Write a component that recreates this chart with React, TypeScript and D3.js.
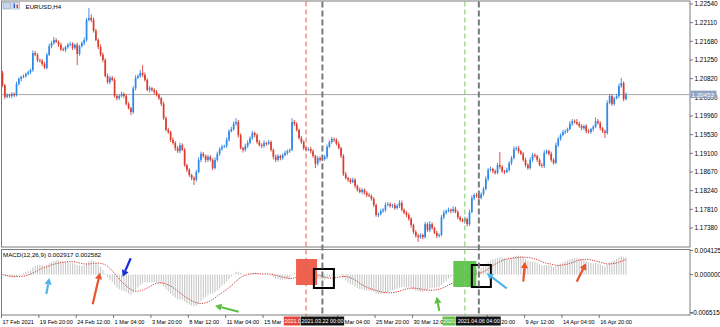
import React from "react";
import * as d3 from "d3";

// ---------- DATA (EURUSD H4) ----------
const firstOpen = 1.2095;
const closes = [
  1.2067, 1.2040, 1.2044, 1.2042, 1.2047, 1.2044, 1.2070, 1.2081, 1.2086, 1.2088,
  1.2093, 1.2097, 1.2102, 1.2141, 1.2137, 1.2125, 1.2123, 1.2116, 1.2107, 1.2137,
  1.2157, 1.2164, 1.2171, 1.2167, 1.2160, 1.2150, 1.2148, 1.2155, 1.2160, 1.2162,
  1.2153, 1.2160, 1.2139, 1.2157, 1.2164, 1.2171, 1.2217, 1.2222, 1.2217, 1.2192,
  1.2171, 1.2155, 1.2137, 1.2125, 1.2088, 1.2074, 1.2084, 1.2079, 1.2042, 1.2037,
  1.2042, 1.2047, 1.2042, 1.2024, 1.2014, 1.2005, 1.2060, 1.2084, 1.2088, 1.2095,
  1.2091, 1.2079, 1.2056, 1.2060, 1.2056, 1.2051, 1.2044, 1.2037, 1.2024, 1.1991,
  1.1964, 1.1959, 1.1941, 1.1934, 1.1922, 1.1915, 1.1929, 1.1918, 1.1883, 1.1872,
  1.1860, 1.1853, 1.1849, 1.1867, 1.1895, 1.1909, 1.1904, 1.1895, 1.1902, 1.1895,
  1.1876, 1.1895, 1.1909, 1.1920, 1.1925, 1.1927, 1.1941, 1.1961, 1.1966, 1.1978,
  1.1982, 1.1952, 1.1922, 1.1918, 1.1927, 1.1934, 1.1945, 1.1957, 1.1952, 1.1936,
  1.1929, 1.1927, 1.1934, 1.1932, 1.1936, 1.1918, 1.1902, 1.1895, 1.1904, 1.1899,
  1.1906, 1.1911, 1.1915, 1.1918, 1.1982, 1.1978, 1.1964, 1.1945, 1.1936, 1.1922,
  1.1918, 1.1920, 1.1915, 1.1904, 1.1886, 1.1899, 1.1895, 1.1897, 1.1902, 1.1925,
  1.1936, 1.1943, 1.1941, 1.1932, 1.1922, 1.1904, 1.1862, 1.1853, 1.1849, 1.1844,
  1.1849, 1.1835, 1.1826, 1.1821, 1.1826, 1.1819, 1.1814, 1.1812, 1.1805, 1.1791,
  1.1768, 1.1770, 1.1777, 1.1780, 1.1791, 1.1793, 1.1789, 1.1791, 1.1784, 1.1789,
  1.1796, 1.1780, 1.1773, 1.1768, 1.1759, 1.1745, 1.1729, 1.1720, 1.1717, 1.1722,
  1.1717, 1.1747, 1.1733, 1.1747, 1.1738, 1.1727, 1.1720, 1.1722, 1.1763, 1.1773,
  1.1777, 1.1780, 1.1777, 1.1782, 1.1775, 1.1763, 1.1757, 1.1754, 1.1759, 1.1747,
  1.1775, 1.1807, 1.1814, 1.1812, 1.1807, 1.1816, 1.1828, 1.1851, 1.1872, 1.1874,
  1.1869, 1.1865, 1.1883, 1.1879, 1.1869, 1.1867, 1.1872, 1.1888, 1.1899, 1.1920,
  1.1922, 1.1915, 1.1909, 1.1895, 1.1883, 1.1876, 1.1895, 1.1906, 1.1904, 1.1895,
  1.1883, 1.1881, 1.1911, 1.1915, 1.1909, 1.1895, 1.1888, 1.1929, 1.1943, 1.1952,
  1.1959, 1.1961, 1.1966, 1.1978, 1.1984, 1.1982, 1.1978, 1.1973, 1.1968, 1.1973,
  1.1961, 1.1959, 1.1966, 1.1971, 1.1984, 1.1980, 1.1968, 1.1961, 1.1957, 1.2026,
  1.2042, 1.2024, 1.2037, 1.2042, 1.2065, 1.2072, 1.2035, 1.20453,
];
// wick lengths in pips above / below the body
const upWick = [
  5, 3, 4, 3, 4, 3, 5, 4, 3, 4, 3, 4, 3, 6, 5, 4, 3, 4, 5, 4,
  6, 5, 7, 4, 3, 5, 4, 3, 4, 5, 4, 3, 5, 3, 4, 6, 5, 23, 8, 6,
  5, 4, 6, 5, 4, 6, 5, 4, 5, 3, 4, 5, 3, 4, 4, 3, 5, 6, 4, 7,
  18, 5, 4, 5, 3, 4, 5, 4, 3, 5, 4, 5, 3, 6, 4, 5, 6, 4, 5, 3,
  4, 3, 4, 5, 6, 5, 4, 3, 5, 4, 4, 6, 5, 4, 5, 3, 6, 4, 5, 6,
  9, 5, 4, 3, 5, 6, 4, 5, 3, 4, 5, 4, 6, 3, 5, 4, 3, 5, 4, 3,
  4, 5, 4, 3, 9, 5, 4, 3, 5, 4, 3, 4, 5, 4, 3, 5, 4, 6, 4, 5,
  4, 5, 3, 4, 5, 3, 4, 5, 3, 4, 5, 4, 3, 5, 4, 3, 4, 5, 3, 4,
  3, 4, 5, 4, 6, 5, 4, 3, 5, 4, 6, 5, 3, 4, 5, 4, 3, 4, 5, 4,
  3, 5, 4, 7, 4, 3, 5, 4, 5, 6, 4, 5, 3, 6, 5, 4, 3, 4, 5, 3,
  5, 6, 4, 5, 3, 4, 5, 6, 4, 5, 3, 4, 5, 30, 4, 3, 5, 4, 5, 6,
  4, 5, 3, 4, 5, 4, 6, 5, 4, 3, 4, 5, 6, 4, 3, 5, 4, 6, 5, 4,
  5, 4, 3, 6, 5, 4, 7, 5, 4, 3, 4, 5, 3, 4, 9, 5, 4, 3, 4, 6,
  5, 4, 3, 5, 6, 12, 4, 5,
];
const downWick = [
  4, 5, 3, 4, 5, 4, 3, 4, 5, 3, 4, 3, 5, 4, 3, 5, 4, 5, 3, 4,
  3, 5, 4, 3, 5, 4, 3, 5, 4, 3, 5, 4, 26, 4, 3, 5, 4, 3, 5, 4,
  3, 5, 4, 5, 3, 4, 5, 3, 4, 5, 4, 3, 5, 4, 3, 7, 4, 5, 3, 4,
  5, 4, 3, 6, 4, 5, 3, 4, 5, 4, 3, 4, 5, 4, 6, 4, 5, 3, 4, 5,
  4, 5, 12, 4, 3, 5, 4, 6, 5, 4, 5, 3, 4, 5, 4, 3, 5, 4, 3, 4,
  4, 5, 3, 6, 4, 5, 3, 4, 5, 4, 3, 5, 4, 5, 3, 4, 6, 5, 4, 5,
  4, 3, 5, 4, 3, 5, 4, 3, 4, 5, 4, 3, 5, 4, 10, 4, 5, 3, 4, 5,
  3, 4, 5, 4, 3, 5, 4, 3, 5, 4, 3, 5, 4, 3, 5, 4, 5, 3, 4, 5,
  4, 5, 3, 4, 5, 3, 4, 5, 4, 3, 5, 4, 3, 5, 4, 6, 5, 4, 11, 4,
  5, 3, 4, 5, 4, 3, 5, 4, 3, 5, 4, 3, 5, 4, 3, 5, 4, 3, 6, 5,
  4, 3, 5, 4, 5, 3, 4, 3, 5, 4, 5, 4, 3, 5, 4, 5, 3, 4, 5, 3,
  4, 5, 3, 4, 5, 4, 3, 5, 4, 5, 3, 4, 5, 3, 4, 5, 4, 3, 5, 4,
  3, 5, 4, 3, 5, 4, 3, 4, 5, 4, 5, 3, 4, 5, 3, 4, 5, 4, 12, 4,
  3, 5, 4, 3, 5, 4, 5, 3,
];
const priceTickLabels = [
  "1.22540", "1.22110", "1.21680", "1.21250", "1.20820", "1.20390", "1.19960",
  "1.19530", "1.19100", "1.18670", "1.18240", "1.17810", "1.17380",
];
const macdTickLabels = ["0.004125", "0.000000", "-0.006515"];
// time-axis labels: bar index and the part of the label left visible (others are covered by the line labels)
const timeLabelBars = [0, 16, 32, 48, 64, 80, 96, 112, 144, 160, 176, 208, 224, 240, 256];
const timeLabelTexts = [
  "17 Feb 2021", "19 Feb 20:00", "24 Feb 12:00", "1 Mar 04:00", "3 Mar 20:00",
  "8 Mar 12:00", "11 Mar 04:00", "15 Mar", "Mar 04:00",
  "25 Mar 20:00", "30 Mar 12:0", "20:00", "9 Apr 12:00",
  "14 Apr 04:00", "16 Apr 20:00",
];
const timeLabelShift = [0, 0, 0, 0, 0, 0, 0, 0, 6, 0, 0, 13, 0, 0, 0];
const vlineBars = [130, 137, 198, 204];
const vlineTexts = ["2021.0", "2021.03.22 00:00", "2021", "2021.04.06 04:00"];
const symbolTitle = "EURUSD,H4";
const macdTitle = "MACD(12,26,9) 0.002917 0.002582";
const lastPriceText = "1.20453";

// ---------- STYLE / LAYOUT ----------
const W = 720, H = 327;
const FONT = "'Liberation Sans', Arial, sans-serif";
const BULL = "#2f88e6", BEAR = "#dc3c30";
const PIP = 0.0001;
const vlineStyles = [
  { stroke: "#e06058", w: 1, dash: "5,3", bg: "#e8463a", l: -22.5, r: -6, anchor: "start" },
  { stroke: "#7a7a7a", w: 2, dash: "6,3", bg: "#141414", l: -22, r: 22, anchor: "middle" },
  { stroke: "#78c868", w: 1, dash: "5,3", bg: "#6cc24e", l: -22.5, r: -9, anchor: "start" },
  { stroke: "#7a7a7a", w: 2, dash: "6,3", bg: "#141414", l: -23, r: 22, anchor: "middle" },
];
const boxes = [
  { bar: 130, dx: 0.5, w: 21, y0: 259, y1: 285, fill: "#ee5a45", stroke: "none" },
  { bar: 137, dx: 1.5, w: 20, y0: 269, y1: 288, fill: "none", stroke: "#000" },
  { bar: 198, dx: 0, w: 23, y0: 261, y1: 287, fill: "#5cc24a", stroke: "none" },
  { bar: 204, dx: 2.5, w: 19, y0: 265, y1: 287, fill: "none", stroke: "#000" },
];
const arrows = [
  { x1: 46.3, y1: 294, x2: 49.3, y2: 278, c: "#4fb4ea" },
  { x1: 92.7, y1: 304.3, x2: 100, y2: 272.7, c: "#e8552d" },
  { x1: 130.7, y1: 258.3, x2: 122.7, y2: 276.7, c: "#1b2fd0" },
  { x1: 238.7, y1: 311.7, x2: 215, y2: 305.7, c: "#5fbf45" },
  { x1: 439.3, y1: 310.7, x2: 436.7, y2: 296.7, c: "#5fbf45" },
  { x1: 506.7, y1: 288.3, x2: 486.7, y2: 273.3, c: "#4fb4ea" },
  { x1: 523.3, y1: 281.7, x2: 525, y2: 261.7, c: "#e8552d" },
  { x1: 576.7, y1: 281.7, x2: 586, y2: 263.3, c: "#e8552d" },
];

function ema(values: number[], period: number): number[] {
  const k = 2 / (period + 1);
  const out: number[] = [];
  let prev = values[0];
  values.forEach((v, i) => {
    prev = i === 0 ? v : v * k + prev * (1 - k);
    out.push(prev);
  });
  return out;
}

function Arrow({ x1, y1, x2, y2, c }: any) {
  const ang = Math.atan2(y2 - y1, x2 - x1);
  const L = 6.5, hw = 3.6;
  const bx = x2 - L * Math.cos(ang), by = y2 - L * Math.sin(ang);
  const px = -Math.sin(ang) * hw, py = Math.cos(ang) * hw;
  return (
    <g>
      <line x1={x1} y1={y1} x2={bx} y2={by} stroke={c} strokeWidth={2.2} />
      <polygon points={`${x2},${y2} ${bx + px},${by + py} ${bx - px},${by - py}`} fill={c} />
    </g>
  );
}

export default function App() {
  const n = closes.length;
  const x = d3.scaleLinear().domain([0, n - 1]).range([2.5, 2.5 + 2.335 * (n - 1)]);
  const y = d3.scaleLinear().domain([1.16966, 1.22632]).range([246, 0]);
  const ym = d3.scaleLinear().domain([-0.006515, 0.004125]).range([312.5, 250.5]).clamp(true);

  const opens = closes.map((_, i) => (i === 0 ? firstOpen : closes[i - 1]));
  const highs = closes.map((c, i) => Math.max(c, opens[i]) + upWick[i] * PIP);
  const lows = closes.map((c, i) => Math.min(c, opens[i]) - downWick[i] * PIP);

  const fast = ema(closes, 12), slow = ema(closes, 26);
  const macd = closes.map((_, i) => fast[i] - slow[i]);
  const signal = macd.map((_, i) => d3.mean(macd.slice(Math.max(0, i - 8), i + 1)) as number);
  const sigPath = d3.line<number>().x((_, i) => x(i)).y((d) => ym(d))(signal) || "";

  const lastY = y(closes[n - 1]);
  const priceVals = priceTickLabels.map(Number);
  const macdVals = macdTickLabels.map(Number);

  return (
    <svg width={W} height={H} style={{ position: "absolute", left: 0, top: 0, background: "#fff" }} fontFamily={FONT}>
      <defs>
        {vlineBars.map((b, k) => (
          <clipPath id={`vlc${k}`} key={k}>
            <rect x={x(b) + vlineStyles[k].l} y={316} width={vlineStyles[k].r - vlineStyles[k].l} height={10} />
          </clipPath>
        ))}
      </defs>
      <rect x={0} y={0} width={W} height={H} fill="#fff" />
      <rect x={1.5} y={1} width={688.5} height={246} fill="none" stroke="#7a7a7a" strokeWidth={1} />
      <rect x={1.5} y={249.5} width={688.5} height={65.5} fill="none" stroke="#7a7a7a" strokeWidth={1} />

      <line x1={2} x2={690} y1={lastY} y2={lastY} stroke="#a8a8a8" strokeWidth={1} />

      <g>
        {closes.map((c, i) => {
          const col = c >= opens[i] ? BULL : BEAR;
          const top = y(Math.max(c, opens[i]));
          const bot = y(Math.min(c, opens[i]));
          return (
            <g key={i}>
              <line x1={x(i)} x2={x(i)} y1={y(highs[i])} y2={y(lows[i])} stroke={col} strokeWidth={0.9} />
              <rect x={x(i) - 0.85} y={top} width={1.7} height={Math.max(0.8, bot - top)} fill={col} />
            </g>
          );
        })}
      </g>

      <rect x={3} y={2.5} width={7.5} height={6.5} fill="#c9d6ea" stroke="#8a9ab8" strokeWidth={0.6} />
      <rect x={12} y={2.5} width={7.5} height={6.5} fill="#e8eef8" stroke="#8a9ab8" strokeWidth={0.6} />
      <rect x={13.5} y={3.5} width={1.6} height={4.5} fill="#2f5fd0" />
      <rect x={16.5} y={4.5} width={1.6} height={3.5} fill="#d83a2e" />
      <text x={25.5} y={8.6} fontSize={6.2} fill="#000">{symbolTitle}</text>

      {priceVals.map((v, k) => (
        <g key={k}>
          <line x1={690} x2={693} y1={y(v)} y2={y(v)} stroke="#555" strokeWidth={0.8} />
          <text x={694.5} y={y(v) + 2.2} fontSize={6.4} fill="#000">{priceTickLabels[k]}</text>
        </g>
      ))}
      <rect x={690.5} y={lastY - 4} width={26} height={7.5} fill="#8fa4c0" />
      <text x={691.5} y={lastY + 2.1} fontSize={6.2} fill="#fff">{lastPriceText}</text>

      <g>
        {macd.map((v, i) => (
          <line key={i} x1={x(i)} x2={x(i)} y1={ym(0)} y2={ym(v)} stroke="#bdbdbd" strokeWidth={0.9} />
        ))}
      </g>
      <path d={sigPath} fill="none" stroke="#d03a30" strokeWidth={1} strokeDasharray="1.2,1.2" />
      <text x={3} y={256.5} fontSize={6.2} fill="#000">{macdTitle}</text>
      {macdVals.map((v, k) => (
        <g key={k}>
          <line x1={690} x2={693} y1={ym(v)} y2={ym(v)} stroke="#555" strokeWidth={0.8} />
          <text x={v < 0 ? 691 : 694.5} y={ym(v) + 2.2} fontSize={6.4} fill="#000">{macdTickLabels[k]}</text>
        </g>
      ))}

      {boxes.map((b, k) => {
        const cx = x(b.bar) + b.dx;
        return (
          <rect key={k} x={cx - b.w / 2} y={b.y0} width={b.w} height={b.y1 - b.y0}
            fill={b.fill} fillOpacity={b.fill === "none" ? 0 : 0.95}
            stroke={b.stroke} strokeWidth={b.stroke === "none" ? 0 : 2} />
        );
      })}

      {vlineBars.map((b, k) => (
        <line key={k} x1={x(b)} x2={x(b)} y1={1.5} y2={316} stroke={vlineStyles[k].stroke}
          strokeWidth={vlineStyles[k].w} strokeDasharray={vlineStyles[k].dash} />
      ))}

      {timeLabelBars.map((b, k) => (
        <g key={k}>
          <line x1={x(b) - 1} x2={x(b) - 1} y1={315} y2={318} stroke="#555" strokeWidth={0.8} />
          <text x={x(b) + timeLabelShift[k]} y={323.5} fontSize={5.6} fill="#000">{timeLabelTexts[k]}</text>
        </g>
      ))}
      {vlineBars.map((b, k) => {
        const s = vlineStyles[k];
        return (
          <g key={k} clipPath={`url(#vlc${k})`}>
            <rect x={x(b) + s.l} y={316.5} width={s.r - s.l} height={9} fill={s.bg} />
            <text x={s.anchor === "middle" ? x(b) : x(b) + s.l + 1} y={323.3} fontSize={5.4} fill="#fff"
              textAnchor={s.anchor}>{vlineTexts[k]}</text>
          </g>
        );
      })}

      {arrows.map((a, k) => <Arrow key={k} {...a} />)}
    </svg>
  );
}
